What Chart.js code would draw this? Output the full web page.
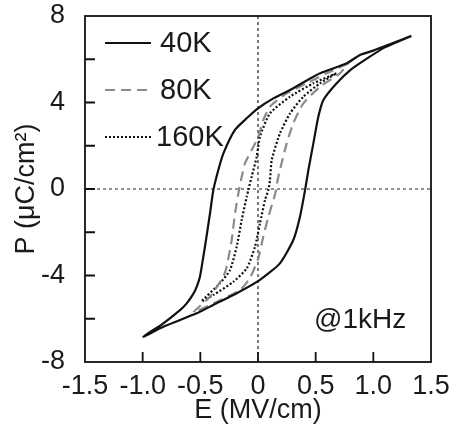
<!DOCTYPE html>
<html>
<head>
<meta charset="utf-8">
<script src="https://cdn.jsdelivr.net/npm/chart.js@4"></script>
<style>
  body { margin: 0; background: #fff; }
  #wrap { width: 457px; height: 432px; }
</style>
</head>
<body>
<div id="wrap"><canvas id="pe" width="457" height="432"></canvas></div>
<script>
// P-E loops (E in MV/cm, P in uC/cm2)
// each loop: upper branch right -> left, then lower branch left -> right
const e40 = [1.33, 1.17, 1.0, 0.884, 0.77, 0.538, 0.278, 0.133, 0.0, -0.098, -0.2, -0.3, -0.344, -0.387, -0.416, -0.46, -0.503, -0.53, -0.561, -0.62, -0.676, -0.821, -0.994,
             -0.821, -0.532, -0.387, -0.185, 0.017, 0.19, 0.306, 0.364, 0.408, 0.437, 0.48, 0.523, 0.567, 0.682, 0.8, 0.95, 1.1, 1.33];
const p40 = [7.08, 6.75, 6.4, 6.2, 5.81, 5.35, 4.58, 4.19, 3.73, 3.27, 2.73, 1.65, 0.88, -0.05, -1.12, -2.67, -4.05, -4.5, -4.85, -5.3, -5.6, -6.21, -6.83,
             -6.37, -5.75, -5.36, -4.82, -4.2, -3.44, -2.36, -1.28, -0.05, 0.88, 2.11, 3.34, 4.12, 4.89, 5.5, 6.05, 6.55, 7.08];

const e80 = [0.78, 0.595, 0.422, 0.249, 0.104, 0.046, 0.003, -0.055, -0.113, -0.141, -0.165, -0.199, -0.228, -0.272, -0.3, -0.42, -0.56,
             -0.387, -0.156, -0.069, 0.003, 0.046, 0.09, 0.15, 0.17, 0.19, 0.249, 0.306, 0.393, 0.538, 0.711, 0.78];
const p80 = [5.8, 5.35, 4.89, 4.42, 3.81, 3.19, 2.42, 1.8, 1.19, 0.57, -0.05, -1.12, -2.36, -3.59, -4.05, -5.0, -5.7,
             -5.29, -4.67, -4.1, -3.2, -2.2, -1.28, -0.2, 0.42, 0.88, 2.11, 3.04, 3.96, 4.73, 5.35, 5.8];

const e160 = [0.68, 0.48, 0.278, 0.104, 0.017, -0.011, -0.055, -0.084, -0.098, -0.141, -0.185, -0.243, -0.33, -0.49,
              -0.387, -0.214, -0.098, -0.026, 0.017, 0.061, 0.09, 0.104, 0.119, 0.19, 0.278, 0.393, 0.538, 0.68];
const p160 = [5.35, 4.89, 4.27, 3.5, 2.42, 1.49, 0.57, -0.05, -0.36, -1.43, -2.67, -3.75, -4.36, -5.2,
              -4.9, -4.29, -3.67, -2.67, -1.59, -0.51, -0.05, 0.42, 1.34, 2.57, 3.5, 4.27, 4.89, 5.35];

const seriesNames = ['40K', '80K', '160K'];
const xTickMarks = [-1.0, -0.5, 0, 0.5, 1.0];
const yTickMarks = [-6, -4, -2, 0, 2, 4, 6];
const note = '@1kHz';

const FONT = '"Liberation Sans", Arial, Helvetica, sans-serif';

function pts(xs, ys) {
  return xs.map((x, i) => ({ x: x, y: ys[i] }));
}

// zero lines, box, inward ticks
const framePlugin = {
  id: 'frame',
  beforeDatasetsDraw(chart) {
    const { ctx, chartArea: a, scales: { x, y } } = chart;
    ctx.save();
    ctx.strokeStyle = '#222';
    ctx.lineWidth = 1.2;
    ctx.setLineDash([3, 3]);
    const x0 = x.getPixelForValue(0), y0 = y.getPixelForValue(0);
    ctx.beginPath();
    ctx.moveTo(x0, a.top); ctx.lineTo(x0, a.bottom);
    ctx.moveTo(a.left, y0); ctx.lineTo(a.right, y0);
    ctx.stroke();
    ctx.restore();
  },
  afterDatasetsDraw(chart) {
    const { ctx, chartArea: a, scales: { x, y } } = chart;
    ctx.save();
    ctx.strokeStyle = '#111';
    ctx.lineWidth = 1.8;
    ctx.strokeRect(a.left, a.top, a.right - a.left, a.bottom - a.top);
    ctx.beginPath();
    xTickMarks.forEach(v => {
      const px = x.getPixelForValue(v);
      ctx.moveTo(px, a.bottom); ctx.lineTo(px, a.bottom - 10);
    });
    yTickMarks.forEach(v => {
      const py = y.getPixelForValue(v);
      ctx.moveTo(a.left, py); ctx.lineTo(a.left + 10, py);
    });
    ctx.stroke();
    ctx.restore();
  },
  afterDraw(chart) {
    const { ctx } = chart;
    ctx.save();
    // legend in the top left corner
    const rows = [43, 90, 137];
    const textX = [160, 160, 156];
    chart.data.datasets.forEach((ds, i) => {
      ctx.strokeStyle = ds.borderColor;
      ctx.lineWidth = ds.borderWidth;
      ctx.setLineDash(ds.borderDash || []);
      ctx.beginPath();
      ctx.moveTo(105, rows[i]); ctx.lineTo(151, rows[i]);
      ctx.stroke();
      ctx.setLineDash([]);
      ctx.fillStyle = '#1a1a1a';
      ctx.font = '29px ' + FONT;
      ctx.textBaseline = 'middle';
      ctx.textAlign = 'left';
      ctx.fillText(ds.label, textX[i], rows[i] + 1);
    });
    ctx.font = '28px ' + FONT;
    ctx.textBaseline = 'alphabetic';
    ctx.fillText(note, 314, 328);
    ctx.restore();
  }
};

new Chart(document.getElementById('pe'), {
  type: 'scatter',
  data: {
    datasets: [
      { label: seriesNames[0], data: pts(e40, p40), borderColor: '#111', borderWidth: 2.2, borderDash: [] },
      { label: seriesNames[1], data: pts(e80, p80), borderColor: '#8a8a8a', borderWidth: 2.2, borderDash: [10, 6] },
      { label: seriesNames[2], data: pts(e160, p160), borderColor: '#111', borderWidth: 2.2, borderDash: [2, 2] }
    ]
  },
  options: {
    responsive: false,
    animation: false,
    showLine: true,
    elements: { point: { radius: 0 }, line: { tension: 0.2 } },
    layout: { padding: { left: 0, right: 26, top: 16, bottom: 0 } },
    plugins: { legend: { display: false }, tooltip: { enabled: false } },
    scales: {
      x: {
        type: 'linear', min: -1.5, max: 1.5,
        grid: { display: false },
        border: { display: false },
        afterFit: s => { s.height = 70; s.paddingLeft = 0; s.paddingRight = 0; },
        ticks: {
          stepSize: 0.5, autoSkip: false, maxRotation: 0, padding: 0,
          color: '#1a1a1a', font: { family: FONT, size: 27 },
          callback: v => Math.abs(v) < 1e-9 ? '0' : v.toFixed(1)
        },
        title: { display: true, text: 'E (MV/cm)', color: '#1a1a1a', font: { family: FONT, size: 27 }, padding: { top: 0, bottom: 5 } }
      },
      y: {
        type: 'linear', min: -8, max: 8,
        grid: { display: false },
        border: { display: false },
        afterFit: s => { s.width = 85; s.paddingTop = 0; s.paddingBottom = 0; },
        ticks: {
          stepSize: 2, autoSkip: false, padding: 12,
          color: '#1a1a1a', font: { family: FONT, size: 27 },
          callback: v => (Math.round(v) % 4 === 0 ? String(Math.round(v)) : '')
        },
        title: { display: true, text: 'P (μC/cm²)', color: '#1a1a1a', font: { family: FONT, size: 27 }, padding: { top: 10, bottom: 0 } }
      }
    }
  },
  plugins: [framePlugin]
});
</script>
</body>
</html>
